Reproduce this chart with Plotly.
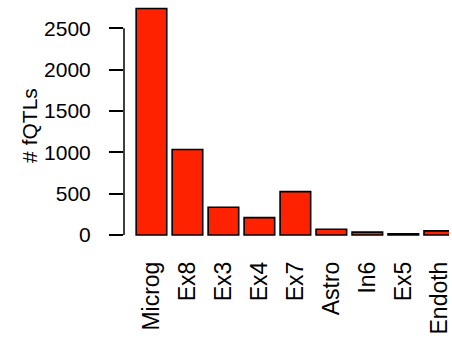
import plotly.graph_objects as go

# fQTL counts per cell type
cell_types = ["Microg", "Ex8", "Ex3", "Ex4", "Ex7", "Astro", "In6", "Ex5", "Endoth"]
fqtl_counts = [2740, 1035, 335, 210, 525, 70, 35, 15, 50]
y_ticks = [0, 500, 1000, 1500, 2000, 2500]

W, H = 452, 344
left, bottom = 124, 107          # plot-area margins in px
plot_h = H - bottom              # 237 px
y_lo, y_hi = -24, 2842
FONT = "Liberation Sans, Arial, Helvetica, sans-serif"
FS = 21

fig = go.Figure(
    go.Bar(
        x=list(range(len(cell_types))),
        y=fqtl_counts,
        width=0.85,
        marker=dict(color="#FF2200", line=dict(color="black", width=1.6)),
    )
)

# R-style y axis line running only between the first and last tick
fig.add_shape(
    type="line", xref="paper", yref="y",
    x0=0, x1=0, y0=y_ticks[0], y1=y_ticks[-1],
    line=dict(color="black", width=1.5),
)

fig.add_annotation(
    text="# fQTLs", textangle=-90, showarrow=False,
    xref="paper", yref="paper",
    x=(28 - left) / (W - left), y=(plot_h - 125) / plot_h,
    xanchor="center", yanchor="middle",
    font=dict(family=FONT, size=FS, color="black"),
)

fig.update_layout(
    width=W, height=H,
    margin=dict(l=left, r=0, t=0, b=bottom),
    paper_bgcolor="white", plot_bgcolor="white",
    showlegend=False,
    font=dict(family=FONT, size=FS, color="black"),
    xaxis=dict(
        range=[-0.763, 8.27],
        tickmode="array",
        tickvals=list(range(len(cell_types))),
        ticktext=cell_types,
        tickangle=-90,
        tickfont=dict(size=23),
        ticks="",
        showline=False, showgrid=False, zeroline=False,
        ticklabelstandoff=19,
        ticklabeloverflow="allow",
    ),
    yaxis=dict(
        range=[y_lo, y_hi],
        tickmode="array",
        tickvals=y_ticks,
        ticktext=[str(v) for v in y_ticks],
        ticks="outside", ticklen=14, tickwidth=1.5, tickcolor="black",
        showline=False, showgrid=False, zeroline=False,
        ticklabelstandoff=14,
    ),
)

fig.write_html("out.html")
